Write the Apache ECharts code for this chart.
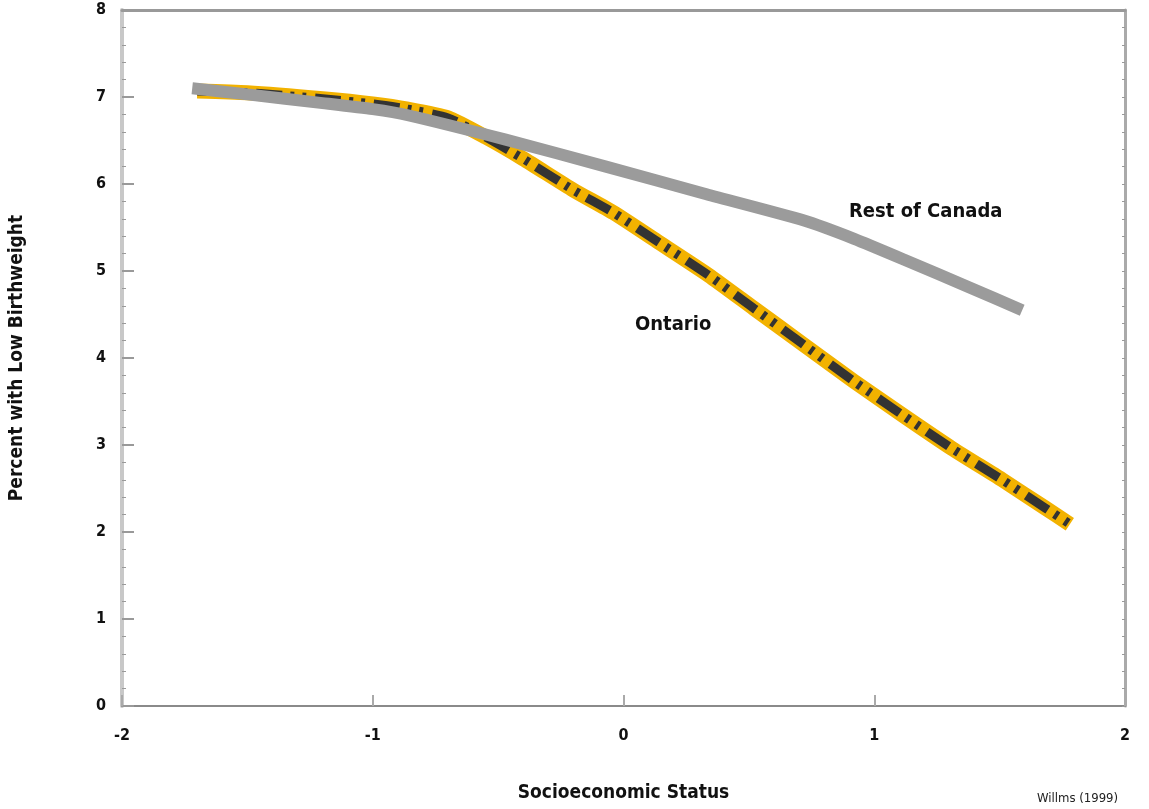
<!DOCTYPE html>
<html>
<head>
<meta charset="utf-8">
<script src="https://cdn.jsdelivr.net/npm/echarts@6/dist/echarts.min.js"></script>
<style>
html,body{margin:0;padding:0;background:#fff;}
#chart{width:1149px;height:809px;}
</style>
</head>
<body>
<div id="chart"></div>
<script>
// Data
var ontarioX = [-1.70, -1.50, -1.20, -1.00, -0.86, -0.70, -0.55, -0.40, -0.20, -0.04, 0.14, 0.34, 0.52, 0.72, 0.92, 1.12, 1.31, 1.51, 1.68, 1.78];
var ontarioY = [7.07, 7.05, 6.98, 6.92, 6.86, 6.76, 6.54, 6.29, 5.93, 5.67, 5.33, 4.95, 4.57, 4.15, 3.73, 3.33, 2.96, 2.60, 2.28, 2.09];
var canadaX = [-1.72, -1.50, -1.20, -1.00, -0.86, -0.47, -0.07, 0.32, 0.72, 0.92, 1.12, 1.38, 1.59];
var canadaY = [7.10, 7.03, 6.93, 6.86, 6.79, 6.51, 6.20, 5.89, 5.58, 5.37, 5.13, 4.81, 4.55];
var xTicks = [-2, -1, 0, 1, 2];
var yTicks = [0, 1, 2, 3, 4, 5, 6, 7, 8];
var seriesNames = ['Ontario', 'Rest of Canada'];
var xTitle = 'Socioeconomic Status';
var yTitle = 'Percent with Low Birthweight';
var sourceNote = 'Willms (1999)';

function pairs(xs, ys){ return xs.map(function(x,i){ return [x, ys[i]]; }); }
var ontario = pairs(ontarioX, ontarioY);
var canada = pairs(canadaX, canadaY);

var FONT = '"DejaVu Sans Condensed", "Liberation Sans Narrow", Arial, sans-serif';
var chart = echarts.init(document.getElementById('chart'), null, {renderer:'canvas'});
var option = {
  animation: false,
  backgroundColor: '#fff',
  grid: {left: 117, top: 10, right: 24, bottom: 103},
  xAxis: [{
    type: 'value', min: xTicks[0], max: xTicks[xTicks.length-1], interval: 1,
    axisLine: {show: true, onZero: false, lineStyle: {color: '#8a8a8a', width: 2}},
    axisTick: {show: true, inside: true, length: 11, lineStyle: {color: '#aaa', width: 2}},
    axisLabel: {margin: 22, fontFamily: FONT, fontWeight: 'bold', fontSize: 16, color: '#111',
      formatter: function(v){ return String(v); }},
    splitLine: {show: false},
    name: xTitle, nameLocation: 'middle', nameGap: 78,
    nameTextStyle: {fontFamily: FONT, fontWeight: 'bold', fontSize: 19, color: '#111'}
  }, {
    type: 'value', position: 'top', min: xTicks[0], max: xTicks[xTicks.length-1], interval: 1,
    axisLine: {show: true, onZero: false, lineStyle: {color: '#999', width: 3}},
    axisTick: {show: false}, axisLabel: {show: false}, splitLine: {show: false}
  }],
  yAxis: [{
    type: 'value', min: yTicks[0], max: yTicks[yTicks.length-1], interval: 1,
    axisLine: {show: true, onZero: false, lineStyle: {color: '#c8c8c8', width: 4}},
    axisTick: {show: true, inside: true, length: 12, lineStyle: {color: '#999', width: 2}},
    minorTick: {show: true, splitNumber: 5, length: 4, lineStyle: {color: '#999', width: 1}},
    axisLabel: {margin: 16, fontFamily: FONT, fontWeight: 'bold', fontSize: 16, color: '#111'},
    splitLine: {show: false},
    name: yTitle, nameLocation: 'middle', nameGap: 95, nameRotate: 90,
    nameTextStyle: {fontFamily: FONT, fontWeight: 'bold', fontSize: 19, color: '#111'}
  }, {
    type: 'value', position: 'right', min: yTicks[0], max: yTicks[yTicks.length-1], interval: 1,
    axisLine: {show: true, onZero: false, lineStyle: {color: '#aaa', width: 3}},
    axisTick: {show: true, inside: true, length: 3, lineStyle: {color: '#999', width: 1}},
    minorTick: {show: true, splitNumber: 5, length: 3, lineStyle: {color: '#999', width: 1}},
    axisLabel: {show: false}, splitLine: {show: false}
  }],
  series: [
    {
      name: seriesNames[0], type: 'line', data: ontario, smooth: 0.2, showSymbol: false, z: 2,
      lineStyle: {color: '#F2B200', width: 15, cap: 'butt', join: 'round'}
    },
    {
      name: seriesNames[0] + ' dashes', type: 'line', data: ontario, smooth: 0.2, showSymbol: false, z: 3,
      lineStyle: {color: '#333333', width: 9, type: [26, 8, 4, 8, 4, 9], cap: 'butt'}
    },
    {
      name: seriesNames[1], type: 'line', data: canada, smooth: 0.2, showSymbol: false, z: 4,
      lineStyle: {color: '#9b9b9b', width: 12, cap: 'butt', join: 'round'}
    }
  ],
  graphic: [
    {type: 'text', left: 849, top: 202, style: {text: seriesNames[1], font: 'bold 20px ' + FONT, fill: '#111'}},
    {type: 'text', left: 635, top: 315, style: {text: seriesNames[0], font: 'bold 20px ' + FONT, fill: '#111'}},
    {type: 'text', left: 1037, top: 792, style: {text: sourceNote, font: '13px ' + FONT, fill: '#222'}}
  ]
};
chart.setOption(option);
</script>
</body>
</html>
